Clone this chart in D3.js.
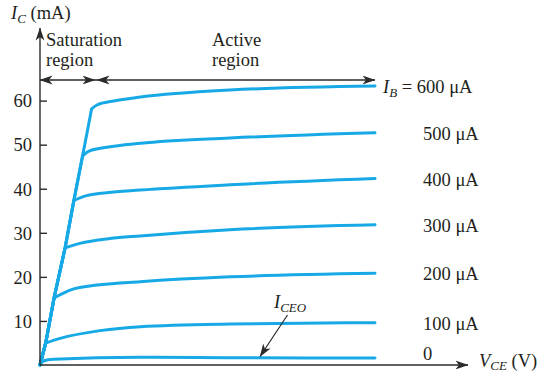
<!DOCTYPE html>
<html>
<head>
<meta charset="utf-8">
<script src="https://cdn.jsdelivr.net/npm/d3@7"></script>
<style>
  html, body { margin: 0; padding: 0; background: #fff; }
  svg { display: block; }
  text { font-family: "Liberation Serif", "Times New Roman", serif; fill: #231f20; }
</style>
</head>
<body>
<svg id="chart" width="538" height="376"></svg>
<script>
// Base-current labels, one per characteristic curve (bottom to top)
const baseCurrents = ["0", "100 μA", "200 μA", "300 μA", "400 μA", "500 μA", "600 μA"];

// Saturation knee of each curve: V_CE (V) and I_C (mA)
const kneeV = [0, 0.17, 0.42, 0.75, 1.01, 1.27, 1.54];
const kneeI = [0, 5.0, 15.2, 26.6, 37.3, 47.4, 58.1];

// Active-region points after each knee: V_CE (V)
const activeV = [
  [0.1, 0.4, 2.99, 5.67, 10],
  [0.6, 1.79, 2.99, 5.67, 10],
  [0.9, 1.79, 2.99, 5.67, 10],
  [1.19, 2.09, 2.99, 5.67, 10],
  [1.29, 1.99, 2.99, 5.67, 10],
  [1.45, 2.0, 3.0, 5.67, 10],
  [1.7, 2.2, 3.0, 5.67, 10]
];
// ...and the matching collector currents I_C (mA)
const activeI = [
  [0.9, 1.3, 1.75, 1.65, 1.6],
  [6.05, 7.8, 8.7, 9.3, 9.6],
  [17.0, 18.2, 18.9, 20.0, 20.8],
  [27.6, 28.7, 29.3, 30.7, 31.8],
  [38.2, 39.1, 39.7, 40.9, 42.3],
  [48.5, 49.4, 50.3, 51.5, 52.7],
  [59.0, 59.9, 60.8, 62.4, 63.3]
];

// Y-axis tick values (mA)
const yTicks = [10, 20, 30, 40, 50, 60];

const svg = d3.select("#chart");
const x = d3.scaleLinear().domain([0, 10]).range([40, 375]);
const y = d3.scaleLinear().domain([0, 60]).range([365, 100.6]);

const ink = "#2b2b2b";
const curveColor = "#16a9e6";
const fs = 18.5;
const subFs = 13;

// Filled arrowhead with a swept-back tail
const defs = svg.append("defs");
defs.append("marker")
  .attr("id", "head")
  .attr("viewBox", "0 0 13 10")
  .attr("refX", 12.5).attr("refY", 5)
  .attr("markerWidth", 13).attr("markerHeight", 10)
  .attr("markerUnits", "userSpaceOnUse")
  .attr("orient", "auto-start-reverse")
  .append("path")
  .attr("d", "M0,0.6 L13,5 L0,9.4 L3.5,5 Z")
  .attr("fill", ink);

// Characteristic curves: saturation run along the knees, then the active region
const satLine = d3.line().x(d => x(d[0])).y(d => y(d[1]));
const actLine = d3.line().x(d => x(d[0])).y(d => y(d[1])).curve(d3.curveMonotoneX);

const curveData = baseCurrents.map((lab, i) => {
  const sat = kneeV.slice(0, i + 1).map((v, k) => [v, kneeI[k]]);
  const act = [[kneeV[i], kneeI[i]]].concat(activeV[i].map((v, k) => [v, activeI[i][k]]));
  return { lab, sat, act, end: act[act.length - 1] };
});

svg.append("g").selectAll("path")
  .data(curveData)
  .join("path")
  .attr("d", d => (d.sat.length > 1 ? satLine(d.sat) : "") + actLine(d.act))
  .attr("fill", "none")
  .attr("stroke", curveColor)
  .attr("stroke-width", 3)
  .attr("stroke-linejoin", "round")
  .attr("stroke-linecap", "round");

// Axes
svg.append("line")
  .attr("x1", x(0)).attr("y1", y(0)).attr("x2", x(0)).attr("y2", 28)
  .attr("stroke", ink).attr("stroke-width", 1.4)
  .attr("marker-end", "url(#head)");
svg.append("line")
  .attr("x1", x(0)).attr("y1", y(0)).attr("x2", 468).attr("y2", y(0))
  .attr("stroke", ink).attr("stroke-width", 1.4)
  .attr("marker-end", "url(#head)");

const yAxis = d3.axisLeft(y)
  .tickValues(yTicks)
  .tickSizeInner(-7)
  .tickSizeOuter(0)
  .tickPadding(8)
  .tickFormat(d3.format("d"));
const gy = svg.append("g").attr("transform", `translate(${x(0)},0)`).call(yAxis);
gy.select(".domain").remove();
gy.selectAll(".tick line").attr("stroke", ink).attr("stroke-width", 1.4);
gy.selectAll(".tick text")
  .attr("font-family", "Liberation Serif, serif")
  .attr("font-size", fs)
  .attr("fill", "#231f20")
  .attr("dy", "0.34em");

// Region boundary line with arrowheads on each segment end
const regionY = 80;
svg.append("line")
  .attr("x1", x(0)).attr("y1", regionY).attr("x2", 375).attr("y2", regionY)
  .attr("stroke", ink).attr("stroke-width", 1.3);
[[55, x(0)], [80, 95], [112, 97], [360, 375]].forEach(([a, b]) => {
  svg.append("line")
    .attr("x1", a).attr("y1", regionY).attr("x2", b).attr("y2", regionY)
    .attr("stroke", ink).attr("stroke-width", 0.01)
    .attr("marker-end", "url(#head)");
});

// Region captions
[["Saturation", 46, 46], ["region", 46, 66], ["Active", 212, 46], ["region", 212, 66]].forEach(([t, tx, ty]) => {
  svg.append("text").attr("x", tx).attr("y", ty).attr("font-size", fs).text(t);
});

// Axis titles
const yt = svg.append("text").attr("x", 11).attr("y", 19).attr("font-size", fs);
yt.append("tspan").attr("font-style", "italic").text("I");
yt.append("tspan").attr("font-style", "italic").attr("font-size", subFs).attr("dy", 4).text("C");
yt.append("tspan").attr("dy", -4).text(" (mA)");

const xt = svg.append("text").attr("x", 479).attr("y", 367).attr("font-size", fs);
xt.append("tspan").attr("font-style", "italic").text("V");
xt.append("tspan").attr("font-style", "italic").attr("font-size", subFs).attr("dy", 3).text("CE");
xt.append("tspan").attr("dy", -3).text(" (V)");

// Base-current labels at the right end of each curve
curveData.forEach((d, i) => {
  const ty = y(d.end[1]) + (i === 0 ? 2.5 : 7);
  if (i === curveData.length - 1) {
    const t = svg.append("text").attr("x", 383).attr("y", ty).attr("font-size", fs);
    t.append("tspan").attr("font-style", "italic").text("I");
    t.append("tspan").attr("font-style", "italic").attr("font-size", subFs).attr("dy", 4).text("B");
    t.append("tspan").attr("dy", -4).text(" = " + d.lab);
  } else {
    svg.append("text").attr("x", 423).attr("y", ty).attr("font-size", fs).text(d.lab);
  }
});

// Leakage current callout on the I_B = 0 curve
const lt = svg.append("text").attr("x", 274).attr("y", 308).attr("font-size", fs);
lt.append("tspan").attr("font-style", "italic").text("I");
lt.append("tspan").attr("font-style", "italic").attr("font-size", subFs).attr("dy", 3.5).text("CEO");
svg.append("line")
  .attr("x1", 287.5).attr("y1", 315).attr("x2", 260).attr("y2", 356.5)
  .attr("stroke", ink).attr("stroke-width", 1.2)
  .attr("marker-end", "url(#head)");
</script>
</body>
</html>
